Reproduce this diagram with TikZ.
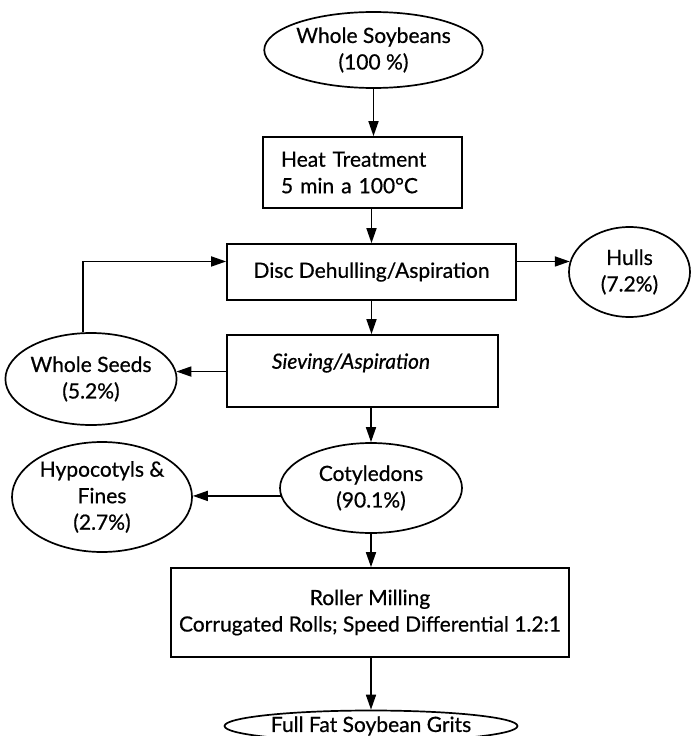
\documentclass[tikz,border=0pt]{standalone}
\usepackage{fontspec}
\setmainfont{Lato}[FakeBold=0.6]
\usetikzlibrary{shapes.geometric,arrows.meta}
\begin{document}
\begin{tikzpicture}[x=1pt,y=-1pt,
  every node/.style={font=\fontsize{21}{26.5}\selectfont, inner sep=0pt},
  box/.style={draw, line width=1.7pt, rectangle, align=center},
  oval/.style={draw, line width=1.7pt, ellipse, align=center},
  arr/.style={line width=1.7pt, -{Triangle[length=15pt,width=10pt]}}]
\useasboundingbox (0,0) rectangle (695,736);
\clip (0,0) rectangle (695,736);
\fill[white] (0,0) rectangle (695,736);

\node[oval, minimum width=217pt, minimum height=76pt] (ws) at (373.5,50) {Whole Soybeans\\(100 \%)};
\node[box, minimum height=71pt, text width=163pt, inner xsep=18pt, align=left] (heat) at (362.5,172.5) {Heat Treatment\\5 min a 100°C};
\node[box, minimum width=289pt, minimum height=56pt] (disc) at (371.5,272) {Disc Dehulling/Aspiration};
\node[oval, minimum width=121pt, minimum height=90pt] (hulls) at (629.5,272) {Hulls\\(7.2\%)};
\node[box, minimum width=271pt, minimum height=72pt] (sieve) at (362.5,371) {};
\node (sievetxt) at (351,363) {\itshape Sieving/Aspiration};
\node[oval, minimum width=162pt, minimum height=92pt] (wseeds) at (91,379) {Whole Seeds\\(5.2\%)};
\node[oval, minimum width=182pt, minimum height=90pt] (coty) at (371,488) {Cotyledons\\(90.1\%)};
\node[oval, minimum width=180pt, minimum height=110pt] (hypo) at (102,497) {Hypocotyls \&\\Fines\\(2.7\%)};
\node[box, minimum width=398pt, minimum height=89pt] (roller) at (370,612.5) {Roller Milling\\Corrugated Rolls; Speed Differential 1.2:1};
\node[oval, minimum width=293pt, minimum height=31pt] (grits) at (371,726) {Full Fat Soybean Grits};

\draw[arr] (ws.south) -- (ws.south |- heat.north);
\draw[arr] (heat.south -| disc.north) -- (disc.north);
\draw[arr] (disc.south) -- (disc.south |- sieve.north);
\draw[arr] (sieve.south -| coty.north) -- (coty.north);
\draw[arr] (coty.south) -- (coty.south |- roller.north);
\draw[arr] (roller.south -| grits.north) -- (grits.north);
\draw[arr] (disc.east |- hulls.170.5) -- (hulls.170.5);
\draw[arr] (sieve.west |- wseeds.5) -- (wseeds.5);
\draw[arr] (wseeds.100) |- (disc.west |- hulls.170.5);
\draw[arr] (coty.185.8) -- (coty.185.8 -| hypo.east);
\end{tikzpicture}
\end{document}
